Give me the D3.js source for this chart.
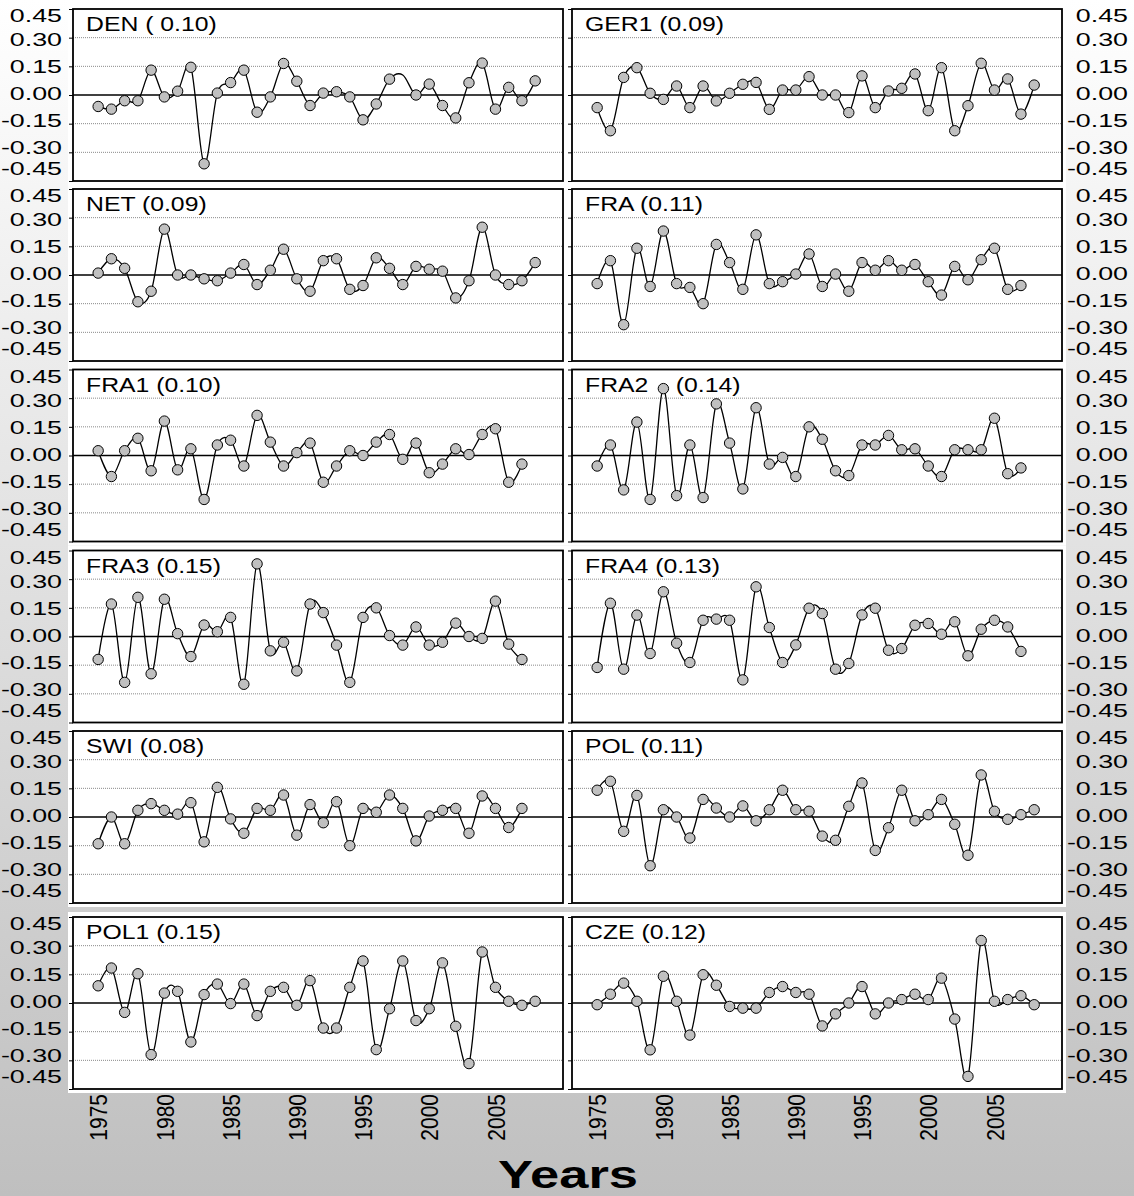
<!DOCTYPE html>
<html>
<head>
<meta charset="utf-8">
<script src="https://cdn.jsdelivr.net/npm/d3@7/dist/d3.min.js"></script>
<style>
  body { margin: 0; background: #fff; }
  svg text { font-family: Arial, "Liberation Sans", sans-serif; fill: #000; }
</style>
</head>
<body>
<div id="chart"></div>
<script>
// years on the x axis
const years = [1975, 1976, 1977, 1978, 1979, 1980, 1981, 1982, 1983, 1984, 1985, 1986,
  1987, 1988, 1989, 1990, 1991, 1992, 1993, 1994, 1995, 1996, 1997, 1998, 1999, 2000,
  2001, 2002, 2003, 2004, 2005, 2006, 2007, 2008];
const xTickYears = [1975, 1980, 1985, 1990, 1995, 2000, 2005];
const yTickValues = [-0.45, -0.30, -0.15, 0, 0.15, 0.30, 0.45];
const yTickLabels = ["-0.45", "-0.30", "-0.15", "0.00", "0.15", "0.30", "0.45"];

// series
const DEN = [-0.06, -0.074, -0.03, -0.03, 0.13, -0.01, 0.02, 0.145, -0.36, 0.01, 0.065, 0.13,
  -0.09, -0.01, 0.165, 0.072, -0.055, 0.01, 0.017, -0.01, -0.13, -0.047, 0.083, 0.105, 0.0,
  0.057, -0.055, -0.12, 0.064, 0.167, -0.074, 0.04, -0.03, 0.074];
const denNoMarker = [1998];
const GER1 = [-0.066, -0.187, 0.092, 0.143, 0.009, -0.023, 0.047, -0.066, 0.047, -0.031, 0.009,
  0.056, 0.066, -0.075, 0.026, 0.026, 0.096, 0.0, 0.0, -0.092, 0.10, -0.066, 0.021, 0.035, 0.11,
  -0.082, 0.143, -0.187, -0.056, 0.166, 0.026, 0.084, -0.10, 0.052];
const NET = [0.01, 0.085, 0.035, -0.14, -0.085, 0.24, 0.0, 0.0, -0.02, -0.03, 0.01, 0.055, -0.05,
  0.025, 0.135, -0.02, -0.085, 0.075, 0.085, -0.075, -0.055, 0.09, 0.035, -0.05, 0.045, 0.03,
  0.02, -0.12, -0.03, 0.25, 0.0, -0.05, -0.03, 0.065];
const FRA = [-0.045, 0.075, -0.26, 0.14, -0.06, 0.23, -0.045, -0.065, -0.15, 0.16, 0.065, -0.075,
  0.21, -0.045, -0.035, 0.005, 0.11, -0.06, 0.005, -0.085, 0.065, 0.025, 0.075, 0.025, 0.055,
  -0.035, -0.105, 0.045, -0.025, 0.08, 0.14, -0.075, -0.055];
const FRA1 = [0.025, -0.11, 0.025, 0.09, -0.08, 0.18, -0.075, 0.035, -0.23, 0.055, 0.08, -0.055,
  0.21, 0.07, -0.055, 0.015, 0.065, -0.14, -0.055, 0.025, 0.0, 0.07, 0.11, -0.02, 0.065, -0.09,
  -0.045, 0.035, 0.005, 0.11, 0.14, -0.14, -0.045];
const FRA2 = [-0.055, 0.055, -0.18, 0.175, -0.23, 0.35, -0.21, 0.055, -0.22, 0.27, 0.065, -0.175,
  0.25, -0.045, -0.01, -0.11, 0.15, 0.085, -0.08, -0.105, 0.055, 0.055, 0.105, 0.03, 0.035,
  -0.055, -0.11, 0.03, 0.03, 0.03, 0.195, -0.095, -0.065];
const FRA3 = [-0.12, 0.17, -0.24, 0.205, -0.195, 0.195, 0.015, -0.105, 0.06, 0.025, 0.10, -0.25,
  0.38, -0.075, -0.03, -0.18, 0.17, 0.125, -0.045, -0.24, 0.10, 0.15, 0.005, -0.045, 0.05,
  -0.045, -0.03, 0.07, 0.0, -0.01, 0.185, -0.04, -0.12];
const FRA4 = [-0.162, 0.174, -0.171, 0.112, -0.089, 0.234, -0.035, -0.136, 0.085, 0.091, 0.085,
  -0.227, 0.26, 0.047, -0.136, -0.044, 0.148, 0.12, -0.171, -0.141, 0.113, 0.148, -0.072, -0.063,
  0.059, 0.068, 0.012, 0.077, -0.101, 0.038, 0.085, 0.05, -0.078];
const SWI = [-0.14, 0.0, -0.14, 0.035, 0.07, 0.035, 0.015, 0.075, -0.13, 0.155, -0.01, -0.085,
  0.045, 0.035, 0.115, -0.095, 0.065, -0.03, 0.08, -0.15, 0.045, 0.025, 0.115, 0.045, -0.125,
  0.005, 0.035, 0.045, -0.085, 0.11, 0.045, -0.055, 0.045];
const POL = [0.14, 0.187, -0.075, 0.113, -0.255, 0.038, 0.0, -0.11, 0.092, 0.047, 0.0, 0.058,
  -0.02, 0.038, 0.14, 0.038, 0.03, -0.10, -0.122, 0.056, 0.178, -0.175, -0.056, 0.14, -0.02,
  0.012, 0.092, -0.038, -0.20, 0.22, 0.03, -0.012, 0.012, 0.038];
const POL1 = [0.09, 0.183, -0.049, 0.153, -0.27, 0.052, 0.061, -0.204, 0.044, 0.099, -0.003,
  0.099, -0.066, 0.061, 0.082, -0.012, 0.117, -0.131, -0.131, 0.082, 0.22, -0.244, -0.03, 0.22,
  -0.092, -0.03, 0.21, -0.122, -0.317, 0.267, 0.082, 0.009, -0.012, 0.009];
const CZE = [-0.009, 0.046, 0.104, 0.009, -0.245, 0.14, 0.009, -0.168, 0.148, 0.093, -0.018,
  -0.027, -0.027, 0.055, 0.086, 0.055, 0.046, -0.12, -0.057, 0.0, 0.086, -0.057, 0.0, 0.018,
  0.046, 0.018, 0.13, -0.084, -0.384, 0.327, 0.009, 0.018, 0.038, -0.009];

// panel order: row by row, left then right
const panelSeries = [DEN, GER1, NET, FRA, FRA1, FRA2, FRA3, FRA4, SWI, POL, POL1, CZE];
const panelLabels = ["DEN ( 0.10)", "GER1 (0.09)", "NET (0.09)", "FRA (0.11)", "FRA1 (0.10)",
  "FRA2    (0.14)", "FRA3 (0.15)", "FRA4 (0.13)", "SWI (0.08)", "POL (0.11)", "POL1 (0.15)",
  "CZE (0.12)"];
const noMarker = { 0: denNoMarker };

// layout
const W = 1134, H = 1196;
const SX = 1.18;   // horizontal stretch of the source figure (titles, years)
const SXL = 1.45;  // stretch of the axis numbers
const colX = [73, 572];
const rowTop = [9, 189, 369.5, 550.5, 731, 917];
const pw = 490, ph = 172;

const svg = d3.select("#chart").append("svg")
  .attr("width", W).attr("height", H);

const grad = svg.append("defs").append("linearGradient")
  .attr("id", "bg").attr("x1", 0).attr("y1", 0).attr("x2", 0).attr("y2", 1);
grad.append("stop").attr("offset", "0%").attr("stop-color", "#ffffff");
grad.append("stop").attr("offset", "100%").attr("stop-color", "#bfbfbf");
svg.append("rect").attr("width", W).attr("height", H).attr("fill", "url(#bg)");

const x = d3.scaleLinear().domain([1973.1, 2010.1]).range([0, pw]);
const y = d3.scaleLinear().domain([-0.45, 0.45]).range([ph, 0]);
// the printed numbers sit a little tighter than the grid, ends pulled in
const yLab = d3.scaleLinear()
  .domain([-0.45, -0.30, 0.30, 0.45])
  .range([ph / 2 + 74, ph / 2 + 53, ph / 2 - 55, ph / 2 - 79]);

const line = d3.line()
  .x(d => x(d.year))
  .y(d => y(d.v))
  .curve(d3.curveCardinal.tension(0));

function numberAxis(sel) {
  sel.call(d3.axisLeft(yLab).tickValues(yTickValues).tickSize(0).tickPadding(0)
    .tickFormat((d, k) => yTickLabels[k]));
  sel.select(".domain").remove();
  sel.selectAll("text")
    .attr("x", 0)
    .attr("transform", `scale(${SXL},1)`)
    .style("font-size", "18.5px");
}

panelSeries.forEach((vals, i) => {
  const col = i % 2, row = Math.floor(i / 2);
  const g = svg.append("g")
    .attr("transform", `translate(${colX[col]},${rowTop[row]})`);

  g.append("rect")
    .attr("x", -5).attr("y", -5)
    .attr("width", pw + 9).attr("height", ph + 9)
    .attr("fill", "#fff");

  // dotted grid
  g.selectAll(".grid")
    .data(yTickValues.filter(v => Math.abs(v) > 0.01 && Math.abs(v) < 0.4))
    .enter().append("line")
    .attr("x1", 0).attr("x2", pw)
    .attr("y1", d => y(d)).attr("y2", d => y(d))
    .attr("stroke", "#8a8a8a").attr("stroke-width", 1)
    .attr("stroke-dasharray", "1,1");

  g.append("line")
    .attr("x1", 0).attr("x2", pw)
    .attr("y1", y(0)).attr("y2", y(0))
    .attr("stroke", "#000").attr("stroke-width", 1.6);

  // tick marks on the left edge
  const ax = g.append("g").call(
    d3.axisLeft(y).tickValues(yTickValues).tickSize(4).tickFormat(""));
  ax.select(".domain").remove();
  ax.selectAll("line").attr("stroke", "#000");

  // numbers: left of the left column, far right for the right column
  if (col === 0) {
    svg.append("g")
      .attr("transform", `translate(${colX[0] - 11},${rowTop[row]})`)
      .call(numberAxis);
  } else {
    svg.append("g")
      .attr("transform", `translate(1128,${rowTop[row]})`)
      .call(numberAxis);
  }

  g.append("text")
    .attr("transform", `translate(13,22) scale(${SX},1)`)
    .style("font-size", "21px")
    .style("white-space", "pre")
    .text(panelLabels[i]);

  const pts = vals.map((v, k) => ({ year: years[k], v: v }));
  const hidden = noMarker[i] || [];

  g.append("path")
    .datum(pts)
    .attr("d", line)
    .attr("fill", "none")
    .attr("stroke", "#000")
    .attr("stroke-width", 1.3);

  g.selectAll(".pt")
    .data(pts.filter(d => hidden.indexOf(d.year) < 0))
    .enter().append("circle")
    .attr("class", "pt")
    .attr("cx", d => x(d.year))
    .attr("cy", d => y(d.v))
    .attr("r", 5.2)
    .attr("fill", "#c0c0c0")
    .attr("stroke", "#000")
    .attr("stroke-width", 1);

  g.append("rect")
    .attr("width", pw).attr("height", ph)
    .attr("fill", "none")
    .attr("stroke", "#000").attr("stroke-width", 1.8);

  // year labels under the bottom row
  if (row === 5) {
    const bx = g.append("g")
      .attr("transform", `translate(0,${ph + 5})`)
      .call(d3.axisBottom(x).tickValues(xTickYears).tickSize(0).tickPadding(0)
        .tickFormat(d3.format("d")));
    bx.select(".domain").remove();
    bx.selectAll("text")
      .attr("y", 0).attr("dy", "0.35em")
      .attr("text-anchor", "end")
      .attr("transform", `rotate(-90) scale(1,${SX})`)
      .style("font-size", "21px");
  }
});

svg.append("text")
  .attr("transform", "translate(568,1188) scale(1.38,1)")
  .attr("text-anchor", "middle")
  .style("font-size", "38px")
  .style("font-weight", "bold")
  .text("Years");
</script>
</body>
</html>
